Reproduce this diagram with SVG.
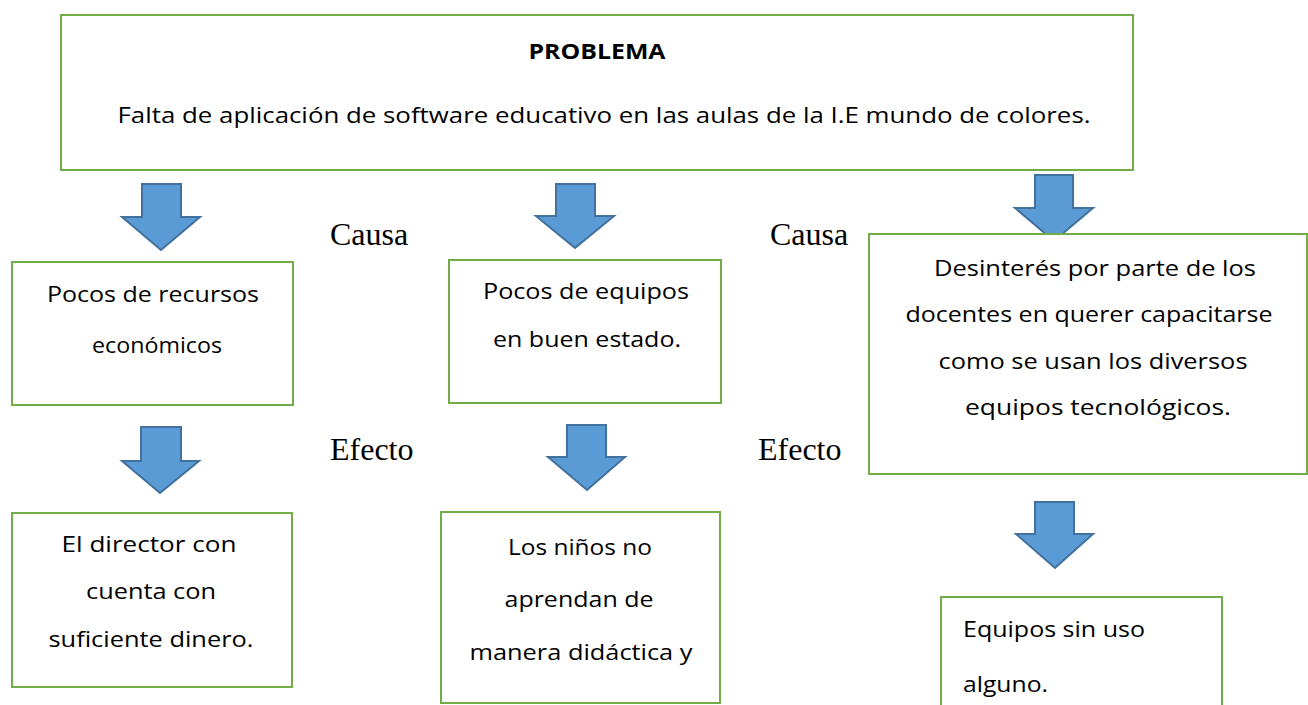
<svg xmlns="http://www.w3.org/2000/svg" width="1308" height="705" viewBox="0 0 1308 705">
<style>
.box{fill:#fff;stroke:#70AD47;stroke-width:2}
.arr{fill:#5B9BD5;stroke:#41719C;stroke-width:2;stroke-linejoin:miter}
.t{font-family:"Open Sans","Liberation Sans",Arial,sans-serif;font-size:21px;fill:#000;text-anchor:middle}
.tl{font-family:"Open Sans","Liberation Sans",Arial,sans-serif;font-size:21px;fill:#000}
.b{font-weight:bold}
.lab{font-family:"Liberation Serif","Times New Roman",serif;font-size:32px;fill:#000}
</style>
<rect width="1308" height="705" fill="#fff"/>
<g id="connectors">
<path class="arr" d="M142,184 H181 V217 H200 L161,250 L122,217 H142 Z"/>
<path class="arr" d="M556,184 H595 V216 H614 L575,248 L536,216 H556 Z"/>
<path class="arr" d="M1035,175 H1073 V208 H1093 L1054,241 L1015,208 H1035 Z"/>
<path class="arr" d="M141,427 H181 V461 H199 L160,493 L122,461 H141 Z"/>
<path class="arr" d="M567,425 H606 V457 H625 L587,490 L548,457 H567 Z"/>
<path class="arr" d="M1035,502 H1074 V534 H1093 L1055,568 L1016,534 H1035 Z"/>
</g>
<g id="problema">
<rect class="box" x="61" y="15" width="1072" height="155"/>
<text class="t b" x="597" y="59" textLength="137" lengthAdjust="spacingAndGlyphs">PROBLEMA</text>
<text class="t" x="604" y="123" textLength="973" lengthAdjust="spacingAndGlyphs">Falta de aplicación de software educativo en las aulas de la  I.E mundo de colores.</text>
</g>
<g id="causa1">
<rect class="box" x="12" y="262" width="281" height="143"/>
<text class="t" x="153" y="302" textLength="212" lengthAdjust="spacingAndGlyphs">Pocos de recursos</text>
<text class="t" x="157" y="353" textLength="130" lengthAdjust="spacingAndGlyphs">económicos</text>
</g>
<g id="causa2">
<rect class="box" x="449" y="260" width="272" height="143"/>
<text class="t" x="586" y="299" textLength="206" lengthAdjust="spacingAndGlyphs">Pocos de equipos</text>
<text class="t" x="587" y="347" textLength="188" lengthAdjust="spacingAndGlyphs">en buen estado.</text>
</g>
<g id="causa3">
<rect class="box" x="869" y="234" width="438" height="240"/>
<text class="t" x="1095" y="276" textLength="322" lengthAdjust="spacingAndGlyphs">Desinterés por parte de los</text>
<text class="t" x="1089" y="322" textLength="367" lengthAdjust="spacingAndGlyphs">docentes en querer capacitarse</text>
<text class="t" x="1093" y="369" textLength="309" lengthAdjust="spacingAndGlyphs">como se usan los diversos</text>
<text class="t" x="1098" y="415" textLength="266" lengthAdjust="spacingAndGlyphs">equipos tecnológicos.</text>
</g>
<g id="efecto1">
<rect class="box" x="12" y="513" width="280" height="174"/>
<text class="t" x="149" y="552" textLength="175" lengthAdjust="spacingAndGlyphs">El director con</text>
<text class="t" x="151" y="599" textLength="130" lengthAdjust="spacingAndGlyphs">cuenta con</text>
<text class="t" x="151" y="647" textLength="205" lengthAdjust="spacingAndGlyphs">suficiente dinero.</text>
</g>
<g id="efecto2">
<rect class="box" x="441" y="512" width="279" height="191"/>
<text class="t" x="580" y="555" textLength="144" lengthAdjust="spacingAndGlyphs">Los niños no</text>
<text class="t" x="579" y="607" textLength="149" lengthAdjust="spacingAndGlyphs">aprendan de</text>
<text class="t" x="581" y="660" textLength="223" lengthAdjust="spacingAndGlyphs">manera didáctica y</text>
</g>
<g id="efecto3">
<rect class="box" x="941" y="597" width="281" height="120"/>
<text class="tl" x="963" y="637" textLength="182" lengthAdjust="spacingAndGlyphs">Equipos sin uso</text>
<text class="tl" x="963" y="692" textLength="85" lengthAdjust="spacingAndGlyphs">alguno.</text>
</g>
<g id="labels">
<text class="lab" x="330" y="245">Causa</text>
<text class="lab" x="770" y="245">Causa</text>
<text class="lab" x="330" y="460">Efecto</text>
<text class="lab" x="758" y="460">Efecto</text>
</g>
</svg>
